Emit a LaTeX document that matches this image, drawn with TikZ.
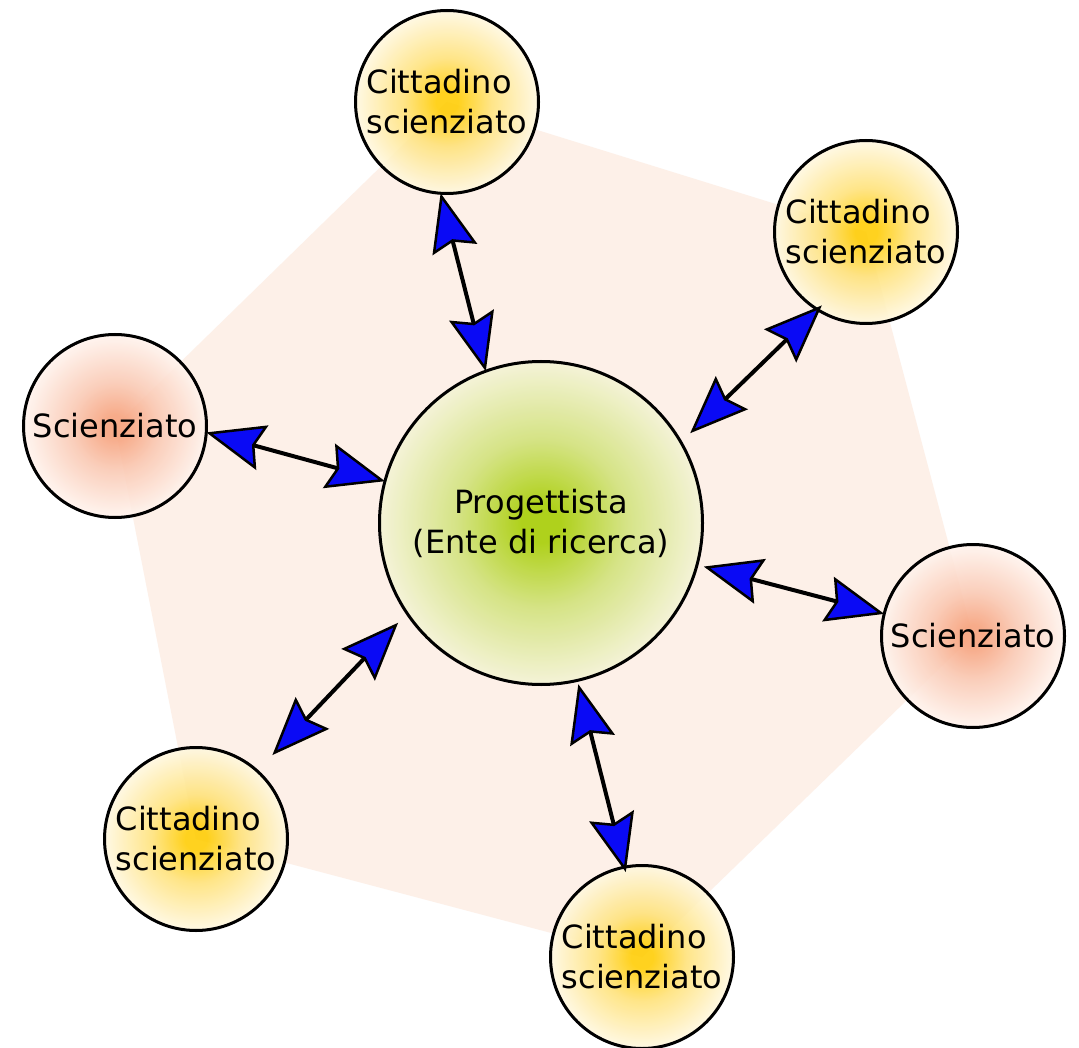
\documentclass[tikz,border=0pt]{standalone}
\usepackage{fontspec}
\setmainfont{DejaVu Sans}
\usetikzlibrary{arrows.meta,backgrounds}
\definecolor{hexfill}{RGB}{253,240,232}
\definecolor{citin}{RGB}{255,204,0}
\definecolor{citmid}{RGB}{255,226,120}
\definecolor{citout}{RGB}{255,248,225}
\definecolor{sciin}{RGB}{247,160,122}
\definecolor{scimid}{RGB}{250,200,178}
\definecolor{sciout}{RGB}{255,244,238}
\definecolor{proin}{RGB}{165,205,0}
\definecolor{promid}{RGB}{208,226,120}
\definecolor{proout}{RGB}{244,244,214}
\definecolor{arrowblue}{RGB}{10,10,245}
\pgfdeclareradialshading{citshade}{\pgfpointorigin}{color(0bp)=(citin); color(3bp)=(citin); color(12bp)=(citmid); color(25bp)=(citout); color(50bp)=(citout)}
\pgfdeclareradialshading{scishade}{\pgfpointorigin}{color(0bp)=(sciin); color(3bp)=(sciin); color(12bp)=(scimid); color(25bp)=(sciout); color(50bp)=(sciout)}
\pgfdeclareradialshading{proshade}{\pgfpointorigin}{color(0bp)=(proin); color(3bp)=(proin); color(13bp)=(promid); color(25bp)=(proout); color(50bp)=(proout)}
\tikzset{
  bubble/.style={circle, draw=black, line width=3pt, inner sep=0pt, outer sep=0pt,
    shade, fill opacity=0.88, text opacity=1, text=black,
    font=\fontsize{32}{40}\selectfont},
  citnode/.style={bubble, shading=citshade, minimum size=183pt, align=left},
  scinode/.style={bubble, shading=scishade, minimum size=183pt},
  pronode/.style={bubble, shading=proshade, minimum size=323pt, align=center},
  conn/.style={draw=black, line width=4pt, {Stealth[length=58pt, width=46pt, inset=8pt, fill=arrowblue, line width=2.5pt]}-{Stealth[length=58pt, width=46pt, inset=8pt, fill=arrowblue, line width=2.5pt]}}
}
\begin{document}
\begin{tikzpicture}[x=1pt, y=-1pt]
\useasboundingbox (0,0) rectangle (1079,1048);
\node[pronode] (p) at (541,523) {Progettista\\(Ente di ricerca)};
\node[citnode] (c1) at (447,102) {Cittadino\\scienziato};
\node[citnode] (c2) at (866,232) {Cittadino\\scienziato};
\node[scinode] (s1) at (115,426) {Scienziato};
\node[scinode] (s2) at (973,636) {Scienziato};
\node[citnode] (c3) at (196,839) {Cittadino\\scienziato};
\node[citnode] (c4) at (642,957) {Cittadino\\scienziato};
\begin{scope}[on background layer]
  \fill[white] (0,0) rectangle (1079,1048);
  \fill[hexfill] (c1.center) -- (c2.center) -- (s2.center) -- (c4.center) -- (c3.center) -- (s1.center) -- cycle;
\end{scope}
\draw[conn] (c1.-94) -- (p.110);
\draw[conn, shorten <=-6pt, shorten >=13pt] (c2.-122) -- (p.30);
\draw[conn] (s1.-4) -- (p.165);
\draw[conn, shorten >=7pt] (s2.166) -- (p.-15);
\draw[conn, shorten <=22pt, shorten >=13pt] (c3.48) -- (p.-146);
\draw[conn, shorten <=-5pt, shorten >=4pt] (c4.101) -- (p.-77);
\end{tikzpicture}
\end{document}
